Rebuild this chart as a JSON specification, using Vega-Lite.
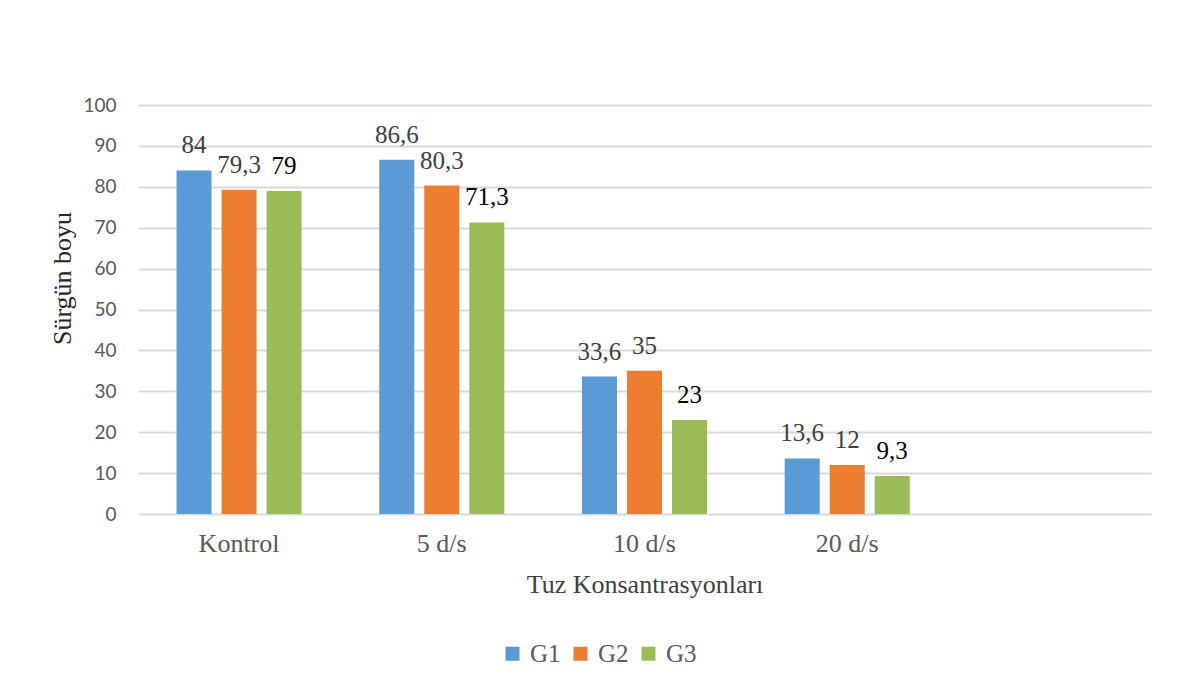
{
  "$schema": "https://vega.github.io/schema/vega-lite/v6.json",
  "autosize": "none",
  "width": 1013,
  "height": 409,
  "padding": {"left": 138, "top": 105, "right": 30, "bottom": 177},
  "background": "#ffffff",
  "config": {
    "locale": {
      "number": {"decimal": ",", "thousands": ".", "grouping": [3], "currency": ["", " ₺"]}
    },
    "view": {"stroke": null},
    "axis": {"domain": false, "ticks": false}
  },
  "data": {
    "values": [
      {"konsantrasyon": "Kontrol", "grup": "G1", "boy": 84},
      {"konsantrasyon": "Kontrol", "grup": "G2", "boy": 79.3},
      {"konsantrasyon": "Kontrol", "grup": "G3", "boy": 79},
      {"konsantrasyon": "5 d/s", "grup": "G1", "boy": 86.6},
      {"konsantrasyon": "5 d/s", "grup": "G2", "boy": 80.3},
      {"konsantrasyon": "5 d/s", "grup": "G3", "boy": 71.3},
      {"konsantrasyon": "10 d/s", "grup": "G1", "boy": 33.6},
      {"konsantrasyon": "10 d/s", "grup": "G2", "boy": 35},
      {"konsantrasyon": "10 d/s", "grup": "G3", "boy": 23},
      {"konsantrasyon": "20 d/s", "grup": "G1", "boy": 13.6},
      {"konsantrasyon": "20 d/s", "grup": "G2", "boy": 12},
      {"konsantrasyon": "20 d/s", "grup": "G3", "boy": 9.3}
    ]
  },
  "encoding": {
    "x": {
      "field": "konsantrasyon",
      "type": "nominal",
      "scale": {
        "domain": ["Kontrol", "5 d/s", "10 d/s", "20 d/s", " "],
        "paddingInner": 0.383,
        "paddingOuter": 0.19
      },
      "axis": {
        "title": "Tuz Konsantrasyonları",
        "labelAngle": 0,
        "labelFont": "Liberation Serif",
        "labelFontSize": 26,
        "labelColor": "#595959",
        "labelPadding": 16,
        "titleFont": "Liberation Serif",
        "titleFontSize": 26,
        "titleFontWeight": "normal",
        "titleColor": "#404040",
        "titleBaseline": "alphabetic",
        "titleY": 78
      }
    },
    "xOffset": {
      "field": "grup",
      "type": "nominal",
      "scale": {"domain": ["G1", "G2", "G3"], "paddingInner": 0.222, "paddingOuter": 0}
    },
    "y": {
      "field": "boy",
      "type": "quantitative",
      "scale": {"domain": [0, 100], "nice": false},
      "axis": {
        "title": "Sürgün boyu",
        "values": [0, 10, 20, 30, 40, 50, 60, 70, 80, 90, 100],
        "labelFont": "Lato",
        "labelFontSize": 19,
        "labelColor": "#595959",
        "labelPadding": 22,
        "grid": true,
        "gridColor": "#d9d9d9",
        "gridWidth": 2,
        "titleFont": "Liberation Serif",
        "titleFontSize": 26,
        "titleFontWeight": "normal",
        "titleColor": "#262626",
        "titleX": -76,
        "titleY": 173,
        "titleBaseline": "middle",
        "titleAlign": "center"
      }
    }
  },
  "layer": [
    {
      "mark": {"type": "bar"},
      "encoding": {
        "color": {
          "field": "grup",
          "type": "nominal",
          "scale": {"domain": ["G1", "G2", "G3"], "range": ["#5b9bd5", "#ed7d31", "#9bbb59"]},
          "legend": {
            "title": null,
            "orient": "none",
            "direction": "horizontal",
            "legendX": 362,
            "legendY": 536,
            "padding": 0,
            "symbolType": "square",
            "symbolSize": 196,
            "symbolStrokeWidth": 0,
            "symbolOpacity": 1,
            "labelFont": "Liberation Serif",
            "labelFontSize": 25,
            "labelColor": "#595959",
            "labelOffset": 5,
            "columnPadding": 7
          }
        }
      }
    },
    {
      "mark": {
        "type": "text",
        "font": "Liberation Serif",
        "fontSize": 25,
        "baseline": "alphabetic",
        "dy": -17
      },
      "encoding": {
        "text": {"field": "boy", "type": "quantitative", "format": ".1~f"},
        "color": {
          "condition": {"test": "datum.grup === 'G3'", "value": "#000000"},
          "value": "#404040"
        }
      }
    }
  ]
}
